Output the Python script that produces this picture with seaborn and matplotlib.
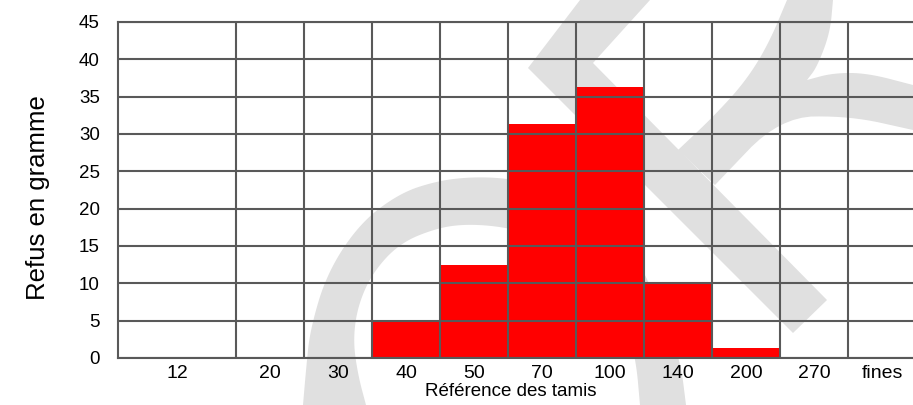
import matplotlib
matplotlib.use("Agg")
import matplotlib.pyplot as plt
from matplotlib.patches import Polygon
import numpy as np
import pandas as pd
import seaborn as sns

# Sieve references and the mass retained on each (g)
sieves = ["12", "20", "30", "40", "50", "70", "100", "140", "200", "270", "fines"]
refus = [0, 0, 0, 5, 12.5, 31.3, 36.3, 10, 1.4, 0, 0]
y_ticks = [0, 5, 10, 15, 20, 25, 30, 35, 40, 45]

sns.set_theme(style="white")
plt.rcParams["font.family"] = ["Liberation Sans", "DejaVu Sans"]


def smooth(points, rounds=4):
    """Chaikin corner cutting on an open outline, endpoints kept."""
    pts = np.asarray(points, dtype=float)
    for _ in range(rounds):
        q = 0.75 * pts[:-1] + 0.25 * pts[1:]
        r = 0.25 * pts[:-1] + 0.75 * pts[1:]
        mid = np.empty((2 * len(q), 2))
        mid[0::2] = q
        mid[1::2] = r
        pts = np.vstack([pts[:1], mid, pts[-1:]])
    return pts


W, H = 913, 405
fig = plt.figure(figsize=(W / 100, H / 100), dpi=100)
fig.patch.set_facecolor("white")

# Background layer for the logo, in pixel units
bg = fig.add_axes([0, 0, 1, 1], zorder=0)
bg.set_xlim(0, W)
bg.set_ylim(H, 0)
bg.axis("off")
wm = "#e0e0e0"
ring_outer = [(303, 405), (306, 370), (310, 330), (327, 273), (360, 223), (400, 193),
              (437, 181), (470, 177), (505, 178), (540, 185), (580, 202), (612, 228),
              (635, 255), (650, 285), (668, 325), (681, 365), (686, 405)]
ring_inner = [(640, 405), (636, 360), (625, 320), (605, 285), (580, 258), (545, 238),
              (505, 227), (467, 224), (437, 228), (400, 243), (373, 272), (358, 305),
              (353, 340), (358, 375), (366, 405)]
bg.add_patch(Polygon(np.vstack([smooth(ring_outer), smooth(ring_inner)]),
                     closed=True, facecolor=wm, lw=0))
bg.add_patch(Polygon([(580, 0), (528, 68), (793, 333), (827, 300), (593, 63), (650, 0)],
                     closed=True, facecolor=wm, lw=0))
swirl_left = [(678, 150), (713, 117), (745, 82), (768, 45), (787, 0)]
swirl_right = [(833, 0), (830, 33), (817, 67), (807, 80)]
tail_top = [(807, 80), (833, 73), (867, 73), (913, 85)]
tail_bottom = [(913, 130), (850, 116), (780, 117), (715, 185)]
bg.add_patch(Polygon(np.vstack([smooth(swirl_left, 3), smooth(swirl_right, 3),
                                smooth(tail_top, 3), smooth(tail_bottom, 3)]),
                     closed=True, facecolor=wm, lw=0))

# Chart axes
ax = fig.add_axes([118 / W, 1 - 358 / H, 798 / W, 336 / H], zorder=1)
ax.set_facecolor("none")

df = pd.DataFrame({"tamis": sieves, "refus": refus})
sns.barplot(data=df, x="tamis", y="refus", order=sieves, color="#ff0000",
            saturation=1, width=1.0, edgecolor="none", linewidth=0, ax=ax)

gc = "#595959"
x_left = -1.235
ax.set_xlim(x_left, len(sieves) - 0.5)
ax.set_ylim(0, 45)
ax.set_yticks(y_ticks)
ax.set_yticklabels([str(v) for v in y_ticks], fontsize=13.5, color="black")

xpos = [(x_left + 0.5) / 2] + list(range(1, len(sieves)))
ax.set_xticks(xpos)
ax.set_xticklabels(sieves, fontsize=14, color="black")
ax.set_xticks(np.arange(0.5, len(sieves) - 1, 1.0), minor=True)

ax.grid(False)
ax.grid(axis="x", which="minor", color=gc, lw=1.5)
ax.grid(axis="y", which="major", color=gc, lw=1.5)
ax.set_axisbelow(False)
ax.tick_params(axis="both", which="both", length=0)
ax.tick_params(axis="y", pad=13)
ax.tick_params(axis="x", pad=5)

for side in ["left", "bottom", "top"]:
    ax.spines[side].set_visible(True)
    ax.spines[side].set_color(gc)
    ax.spines[side].set_linewidth(1.5)
ax.spines["right"].set_visible(False)

ax.set_xlabel("Référence des tamis", fontsize=13.5, color="black")
ax.xaxis.set_label_coords((511 - 118) / 798, (358 - 392) / 336)
ax.xaxis.label.set_va("center")
ax.set_ylabel("Refus en gramme", fontsize=18.5, color="black")
ax.yaxis.set_label_coords((38 - 118) / 798, (358 - 198) / 336)
ax.yaxis.label.set_va("center")

fig.savefig("out.png", dpi=100)
